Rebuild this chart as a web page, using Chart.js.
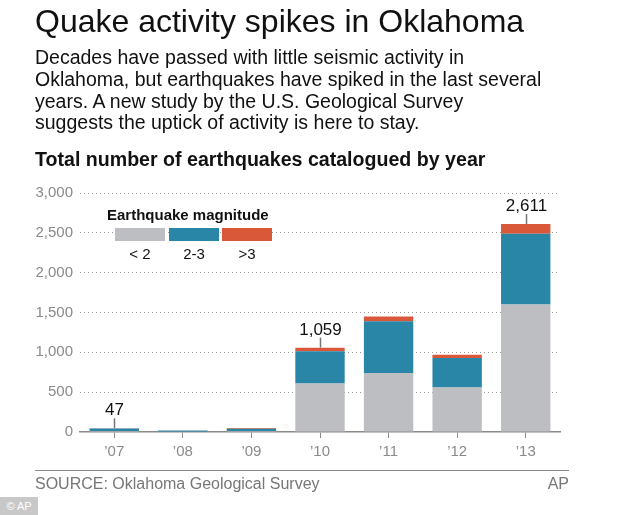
<!DOCTYPE html>
<html lang="en">
<head>
    <meta charset="UTF-8">
    <title>Quake activity spikes in Oklahoma</title>
    <script src="https://cdn.jsdelivr.net/npm/chart.js"></script>
    <style>
        body { margin: 0; background: #fff; font-family: 'Liberation Sans', Arial, sans-serif; }
        .page { position: relative; width: 634px; height: 515px; overflow: hidden; background: #fff; }
        .page canvas { position: absolute; left: 0; top: 0; }
        .txt { position: absolute; white-space: nowrap; }
        .title { left: 35px; top: 3px; font-size: 32px; color: #111; }
        .desc { left: 35px; top: 47px; font-size: 19.5px; line-height: 21.8px; color: #111; }
        .subtitle { left: 35px; top: 148px; font-size: 19.6px; font-weight: bold; color: #111; }
        .legend-title { left: 107px; top: 206px; font-size: 15px; font-weight: bold; color: #111; }
        .swatch { position: absolute; top: 228px; width: 50px; height: 13px; }
        .leg-lbl { top: 245px; font-size: 15px; color: #111; width: 50px; text-align: center; }
        .rule { position: absolute; left: 35px; top: 470px; width: 534px; height: 1px; background: #888; }
        .source { left: 35px; top: 475px; font-size: 16px; color: #777; }
        .ap { right: 65px; top: 475px; font-size: 16px; color: #777; }
        .badge { position: absolute; left: 0; top: 497px; width: 38px; height: 18px; background: #c8c8c8;
                 color: #fff; font-size: 11px; line-height: 18px; text-align: center; }
    </style>
</head>
<body>
<div class="page">
    <canvas id="quakeChart" width="634" height="515"></canvas>
    <div class="txt title">Quake activity spikes in Oklahoma</div>
    <div class="txt desc">Decades have passed with little seismic activity in<br>Oklahoma, but earthquakes have spiked in the last several<br>years. A new study by the U.S. Geological Survey<br>suggests the uptick of activity is here to stay.</div>
    <div class="txt subtitle">Total number of earthquakes catalogued by year</div>
    <div class="txt legend-title">Earthquake magnitude</div>
    <div id="legendBox"></div>
    <div class="rule"></div>
    <div class="txt source">SOURCE: Oklahoma Geological Survey</div>
    <div class="txt ap">AP</div>
    <div class="badge">© AP</div>
</div>
<script>
    const years = ['’07', '’08', '’09', '’10', '’11', '’12', '’13'];
    const magLabels = ['< 2', '2-3', '>3'];
    const magColors = ['#bdbec1', '#2a86a7', '#d9583a'];
    const under2 = [12, 6, 12, 610, 740, 560, 1600];
    const from2to3 = [33, 12, 30, 405, 650, 370, 890];
    const over3 = [2, 1, 8, 44, 60, 40, 121];
    const yTicks = [0, 500, 1000, 1500, 2000, 2500, 3000];
    const labelledYears = [0, 3, 6]; // totals written above these bars

    // legend swatches (html)
    const legendBox = document.getElementById('legendBox');
    const swatchX = [115, 169, 222];
    magLabels.forEach((lbl, i) => {
        const sw = document.createElement('div');
        sw.className = 'swatch';
        sw.style.left = swatchX[i] + 'px';
        sw.style.background = magColors[i];
        legendBox.appendChild(sw);
        const t = document.createElement('div');
        t.className = 'txt leg-lbl';
        t.style.left = swatchX[i] + 'px';
        t.textContent = lbl;
        legendBox.appendChild(t);
    });

    const totalsPlugin = {
        id: 'totals',
        afterDatasetsDraw(chart) {
            const ctx = chart.ctx;
            const xs = chart.scales.x, ys = chart.scales.y;
            ctx.save();
            labelledYears.forEach(i => {
                const total = under2[i] + from2to3[i] + over3[i];
                const x = Math.round(xs.getPixelForValue(i)) + 0.5;
                const yTop = ys.getPixelForValue(total);
                ctx.strokeStyle = '#777';
                ctx.lineWidth = 1.5;
                ctx.beginPath();
                ctx.moveTo(x, yTop);
                ctx.lineTo(x, yTop - 10);
                ctx.stroke();
                ctx.fillStyle = '#111';
                ctx.font = '17px "Liberation Sans", Arial, sans-serif';
                ctx.textAlign = 'center';
                ctx.textBaseline = 'alphabetic';
                ctx.fillText(total.toLocaleString('en-US'), x, yTop - 13);
            });
            ctx.restore();
        }
    };

    const tickFont = { family: "'Liberation Sans', Arial, sans-serif", size: 15 };

    new Chart(document.getElementById('quakeChart'), {
        type: 'bar',
        data: {
            labels: years,
            datasets: [
                { label: magLabels[0], data: under2, backgroundColor: magColors[0] },
                { label: magLabels[1], data: from2to3, backgroundColor: magColors[1] },
                { label: magLabels[2], data: over3, backgroundColor: magColors[2] }
            ]
        },
        options: {
            responsive: false,
            animation: false,
            devicePixelRatio: 1,
            datasets: { bar: { categoryPercentage: 1, barPercentage: 0.72 } },
            layout: { padding: { left: 0, right: 74, top: 193, bottom: 53 } },
            plugins: { legend: { display: false }, tooltip: { enabled: false } },
            scales: {
                x: {
                    stacked: true,
                    afterFit: s => { s.height = 30; },
                    grid: { display: true, drawOnChartArea: false, drawTicks: true, tickLength: 6,
                            tickColor: '#8a8a8a', tickWidth: 1, offset: false },
                    border: { display: true, color: '#8a8a8a', width: 1.5 },
                    ticks: { color: '#8a8a8a', font: tickFont, padding: 5 }
                },
                y: {
                    stacked: true,
                    min: 0,
                    max: 3000,
                    afterFit: s => { s.width = 80; },
                    afterBuildTicks: s => { s.ticks = yTicks.map(v => ({ value: v })); },
                    grid: { drawTicks: false,
                            color: c => c.tick && c.tick.value === 0 ? 'rgba(0,0,0,0)' : '#9a9a9a' },
                    border: { display: false, dash: [1, 3] },
                    ticks: { color: '#8a8a8a', font: tickFont, padding: 7,
                             callback: v => v.toLocaleString('en-US') }
                }
            }
        },
        plugins: [totalsPlugin]
    });
</script>
</body>
</html>
